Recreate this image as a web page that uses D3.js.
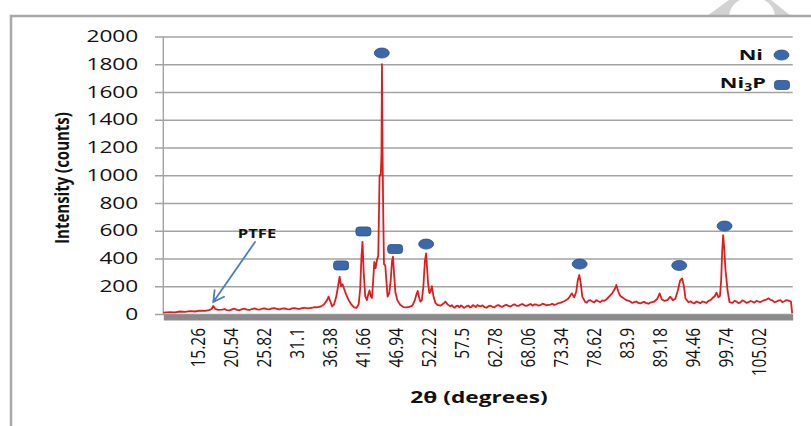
<!DOCTYPE html>
<html>
<head>
<meta charset="utf-8">
<script src="https://cdnjs.cloudflare.com/ajax/libs/d3/7.8.5/d3.min.js"></script>
<style>
  body { margin: 0; background: #fff; }
  svg { display: block; }
  text { font-family: "Open Sans", sans-serif; fill: #111; }
</style>
</head>
<body>
<svg id="chart" width="811" height="426"></svg>
<script>
// XRD pattern: 2-theta (deg) and intensity (counts)
const twoTheta = [
  9.88, 10.95, 11.75, 12.55, 13.35, 14.15, 14.95, 15.75, 16.55, 17.2, 17.6, 17.87, 18.15, 18.6,
  19.26, 20.06, 20.86, 21.66, 22.46, 23.26, 24.06, 24.86, 25.66, 26.46, 27.26, 28.06, 28.86,
  29.66, 30.46, 31.26, 32.06, 32.86, 33.65, 34.45, 35.09, 35.57, 36.05, 36.29, 36.53, 36.85,
  37.17, 37.49, 37.81, 38.05, 38.29, 38.53, 38.78, 39.1, 39.5, 39.9, 40.38, 40.78, 41.1, 41.34,
  41.55, 41.71, 41.9, 42.14, 42.41, 42.62, 42.83, 43.02, 43.22, 43.43, 43.59, 43.8, 44.02,
  44.23, 44.44, 44.63, 44.74, 44.82, 44.92, 45.03, 45.14, 45.35, 45.51, 45.72, 45.99, 46.23,
  46.42, 46.58, 46.74, 46.95, 47.27, 47.76, 48.24, 48.72, 49.2, 49.68, 50.08, 50.32, 50.53,
  50.75, 50.96, 51.2, 51.44, 51.68, 51.87, 52.03, 52.19, 52.4, 52.56, 52.8, 53.04, 53.36,
  53.68, 54.16, 54.64, 54.96, 55.28, 55.76, 56.24, 56.72, 57.2, 57.68, 58.16, 58.64, 59.12,
  59.6, 60.08, 60.56, 61.2, 61.84, 62.48, 63.12, 63.76, 64.4, 65.04, 65.68, 66.32, 66.96,
  67.6, 68.24, 68.88, 69.52, 70.16, 70.8, 71.44, 72.02, 72.66, 73.3, 73.94, 74.58, 75.17,
  75.54, 75.86, 76.1, 76.35, 76.59, 76.83, 77.31, 77.79, 78.43, 79.07, 79.71, 80.35, 80.99,
  81.63, 82.03, 82.27, 82.59, 82.9, 83.38, 83.86, 84.5, 85.14, 85.78, 86.42, 87.06, 87.7,
  88.34, 88.82, 89.19, 89.54, 89.94, 90.42, 90.9, 91.3, 91.7, 92.1, 92.46, 92.78, 93.07,
  93.31, 93.79, 94.43, 95.07, 95.71, 96.35, 96.99, 97.63, 98.03, 98.27, 98.59, 98.83, 99.02,
  99.18, 99.34, 99.5, 99.71, 99.87, 100.03, 100.35, 100.83, 101.47, 102.1, 102.74, 103.38,
  104.02, 104.66, 105.3, 105.94, 106.58, 107.21, 107.85, 108.49, 109.13, 109.77, 110.17, 110.37
];
const intensity = [
  10, 14, 12, 18, 15, 20, 18, 24, 22, 28, 36, 58, 38, 30,
  32, 28, 33, 30, 35, 31, 36, 34, 38, 35, 40, 36, 38,
  35, 40, 38, 42, 40, 45, 48, 55, 70, 100, 125, 95, 55,
  70, 120, 200, 270, 200, 215, 180, 140, 100, 70, 48, 45, 70, 180,
  420, 520, 300, 130, 100, 140, 170, 130, 115, 250, 375, 330, 390,
  420, 1000, 1000, 1150, 1800, 1150, 700, 360, 350, 250, 125, 150, 250,
  380, 413, 300, 160, 100, 65, 50, 48, 52, 60, 100, 140, 166,
  120, 89, 100, 200, 380, 437, 330, 220, 150, 160, 200, 130, 80,
  65, 60, 75, 89, 70, 55, 50, 58, 48, 55, 50, 60, 52,
  58, 65, 55, 50, 56, 52, 60, 55, 62, 58, 64, 60, 68,
  62, 66, 60, 68, 64, 70, 66, 74, 70, 80, 92, 110, 149,
  120, 160, 240, 281, 220, 125, 86, 96, 90, 100, 85, 95, 120,
  151, 180, 209, 160, 130, 115, 100, 90, 85, 80, 84, 78, 82,
  90, 110, 149, 105, 95, 100, 125, 100, 110, 170, 240, 257, 200,
  113, 85, 81, 90, 78, 85, 95, 115, 130, 154, 120, 130, 245,
  450, 569, 480, 317, 250, 173, 86, 80, 90, 84, 92, 85,
  88, 95, 86, 100, 113, 98, 90, 100, 92, 96, 90, 5
];

// extra readings of the background noise between the points above
const noiseTheta = [
  19.66, 20.46, 21.26, 22.06, 22.86, 23.66, 24.46, 25.26, 26.06, 26.86, 27.66, 28.46, 29.26,
  30.06, 30.86, 31.66, 32.46, 33.25, 34.05,
  55.52, 56.0, 56.48, 56.96, 57.44, 57.92, 58.4, 58.88, 59.36, 59.84, 60.32, 60.88, 61.52,
  62.16, 62.8, 63.44, 64.08, 64.72, 65.36, 66.0, 66.64, 67.28, 67.92, 68.56, 69.2, 69.84,
  70.48, 71.12, 71.73, 72.34, 72.98,
  77.55, 78.11, 78.75, 79.39, 80.03, 80.67, 84.18, 84.82, 85.46, 86.1, 86.74, 87.38, 88.02,
  94.11, 94.75, 95.39, 96.03, 96.67, 97.31,
  101.15, 101.78, 102.42, 103.06, 103.7, 104.34, 104.98, 105.62, 106.26, 106.9, 107.53,
  108.17, 108.81, 109.45
];
const noiseCounts = [
  36, 26, 38, 27, 38, 29, 40, 31, 41, 33, 42, 33, 41,
  34, 43, 37, 45, 43, 50,
  62, 64, 46, 60, 62, 44, 58, 48, 64, 50, 58, 62, 45,
  60, 48, 64, 52, 66, 54, 70, 58, 72, 58, 72, 70, 60,
  74, 62, 68, 66, 78,
  82, 100, 84, 92, 98, 104, 96, 80, 90, 76, 88, 74, 86,
  92, 76, 84, 90, 80, 100,
  95, 78, 98, 80, 94, 82, 90, 94, 104, 102, 86,
  96, 86, 100
];

const xTickLabels = ["15.26", "20.54", "25.82", "31.1", "36.38", "41.66", "46.94", "52.22", "57.5",
  "62.78", "68.06", "73.34", "78.62", "83.9", "89.18", "94.46", "99.74", "105.02"];
const yTicks = [0, 200, 400, 600, 800, 1000, 1200, 1400, 1600, 1800, 2000];

// phase markers (position of the symbol above each peak)
const niTheta = [44.79, 51.88, 76.41, 92.32, 99.56];
const niMark = [1881, 504, 360, 350, 634];
const ni3pTheta = [38.29, 41.85, 46.92];
const ni3pMark = [350, 595, 468];

// PTFE note: label, arrow tail, arrow tip
const ptfeLabel = [24.86, 548];
const ptfeTail = [24.54, 519];
const ptfeTip = [17.87, 86];

const svg = d3.select('#chart');
const plotL = 163.3, plotR = 792.7, plotT = 36.5, plotB = 314;

const x = d3.scaleLinear().domain([9.88, 110.45]).range([plotL, plotR]);
const y = d3.scaleLinear().domain([0, 2000]).range([plotB, plotT]);

const markFill = '#3b68aa', markStroke = '#2b4f85';

// watermark corner and frame
svg.append('path')
  .attr('d', 'M707,16 L729,0 L771,0 L791,16 Z')
  .attr('fill', '#d2d2d2');
svg.append('ellipse')
  .attr('cx', 752).attr('cy', 17).attr('rx', 23).attr('ry', 20)
  .attr('fill', '#fff');
svg.append('path')
  .attr('d', 'M11,426 V16 H811')
  .attr('fill', 'none')
  .attr('stroke', '#a9a9a9')
  .attr('stroke-width', 2.5);

// gridlines
svg.append('g')
  .attr('transform', `translate(155,0)`)
  .call(d3.axisRight(y).tickValues(yTicks).tickSize(plotR - 155).tickFormat(''))
  .call(g => g.select('.domain').remove())
  .call(g => g.selectAll('line').attr('stroke', '#a3a3a3').attr('stroke-width', 1.4));

// vertical axis line
svg.append('line')
  .attr('x1', plotL).attr('x2', plotL)
  .attr('y1', plotT).attr('y2', plotB)
  .attr('stroke', '#a3a3a3').attr('stroke-width', 1.4);

// y tick labels
const ySx = 1.42;
svg.append('g')
  .attr('transform', `translate(${plotL},0)`)
  .call(d3.axisLeft(y).tickValues(yTicks).tickSize(0).tickPadding(25).tickFormat(d3.format('d')))
  .call(g => g.select('.domain').remove())
  .call(g => g.selectAll('text')
    .attr('font-size', 16)
    .attr('font-family', '"Open Sans", sans-serif')
    .attr('fill', '#111')
    .attr('x', -25 / ySx)
    .attr('transform', `scale(${ySx},1)`));

// diffraction pattern: main readings plus the noise readings, in 2-theta order
const pts = twoTheta.map((t, i) => [t, intensity[i]])
  .concat(noiseTheta.map((t, i) => [t, noiseCounts[i]]))
  .sort((a, b) => a[0] - b[0]);
const line = d3.line()
  .x(d => x(d[0]))
  .y(d => y(d[1]));
svg.append('path')
  .datum(pts)
  .attr('d', line)
  .attr('fill', 'none')
  .attr('stroke', '#e31b1b')
  .attr('stroke-width', 1.8)
  .attr('stroke-linejoin', 'round');

// x axis (thick grey bar) with rotated labels
svg.append('g')
  .attr('transform', `translate(0,${plotB + 3})`)
  .call(d3.axisBottom(x)
    .tickValues(xTickLabels.map(Number))
    .tickFormat(d => xTickLabels.find(s => +s === d))
    .tickSize(0).tickSizeOuter(0))
  .call(g => g.select('.domain').attr('stroke', '#8a8a8a').attr('stroke-width', 6))
  .call(g => g.selectAll('text')
    .attr('font-size', 15.5)
    .attr('font-family', '"Open Sans", sans-serif')
    .attr('fill', '#111')
    .attr('text-anchor', 'end')
    .attr('x', -11)
    .attr('y', 0)
    .attr('dy', '0.35em')
    .attr('transform', 'scale(1.32,1) rotate(-90)'));

// phase markers
svg.append('g').selectAll('ellipse')
  .data(d3.range(niTheta.length))
  .join('ellipse')
  .attr('cx', i => x(niTheta[i]))
  .attr('cy', i => y(niMark[i]))
  .attr('rx', 7.5).attr('ry', 5)
  .attr('fill', markFill).attr('stroke', markStroke).attr('stroke-width', 0.8);

svg.append('g').selectAll('rect')
  .data(d3.range(ni3pTheta.length))
  .join('rect')
  .attr('x', i => x(ni3pTheta[i]) - 7.5)
  .attr('y', i => y(ni3pMark[i]) - 4.5)
  .attr('width', 15).attr('height', 9).attr('rx', 3)
  .attr('fill', markFill).attr('stroke', markStroke).attr('stroke-width', 0.8);

// PTFE annotation
const lx = x(ptfeLabel[0]), ly = y(ptfeLabel[1]);
svg.append('text')
  .attr('transform', `translate(${lx},${ly}) scale(1.28,1)`)
  .attr('text-anchor', 'middle')
  .attr('font-size', 13)
  .attr('font-weight', 'bold')
  .text('PTFE');

const tx = x(ptfeTail[0]), ty = y(ptfeTail[1]);
const hx = x(ptfeTip[0]), hy = y(ptfeTip[1]);
const ang = Math.atan2(ty - hy, tx - hx);
const wing = 12, spread = 0.5;
svg.append('path')
  .attr('d', `M${tx},${ty} L${hx},${hy}` +
    ` M${hx + wing * Math.cos(ang - spread)},${hy + wing * Math.sin(ang - spread)} L${hx},${hy}` +
    ` L${hx + wing * Math.cos(ang + spread)},${hy + wing * Math.sin(ang + spread)}`)
  .attr('fill', 'none')
  .attr('stroke', '#4a7ebb')
  .attr('stroke-width', 1.8)
  .attr('stroke-linecap', 'round');

// legend
const legSx = 1.45;
svg.append('text')
  .attr('transform', `translate(763,60) scale(${legSx},1)`)
  .attr('text-anchor', 'end')
  .attr('font-size', 15)
  .attr('font-weight', 'bold')
  .text('Ni');
svg.append('ellipse')
  .attr('cx', 781.5).attr('cy', 55).attr('rx', 7.5).attr('ry', 5)
  .attr('fill', markFill).attr('stroke', markStroke).attr('stroke-width', 0.8);

const ni3pText = svg.append('text')
  .attr('transform', `translate(766,88) scale(${legSx},1)`)
  .attr('text-anchor', 'end')
  .attr('font-size', 15)
  .attr('font-weight', 'bold');
ni3pText.append('tspan').text('Ni');
ni3pText.append('tspan').attr('font-size', 10).attr('dy', 3).text('3');
ni3pText.append('tspan').attr('dy', -3).text('P');
svg.append('rect')
  .attr('x', 774.5).attr('y', 80.5).attr('width', 15).attr('height', 9).attr('rx', 3)
  .attr('fill', markFill).attr('stroke', markStroke).attr('stroke-width', 0.8);

// axis titles
svg.append('text')
  .attr('transform', `translate(479,403) scale(1.42,1)`)
  .attr('text-anchor', 'middle')
  .attr('font-size', 16)
  .attr('font-weight', 'bold')
  .text('2θ (degrees)');

svg.append('text')
  .attr('transform', `translate(62,178) scale(1.35,1) rotate(-90)`)
  .attr('text-anchor', 'middle')
  .attr('dy', '0.35em')
  .attr('font-size', 15)
  .attr('font-weight', 'bold')
  .text('Intensity (counts)');
</script>
</body>
</html>
